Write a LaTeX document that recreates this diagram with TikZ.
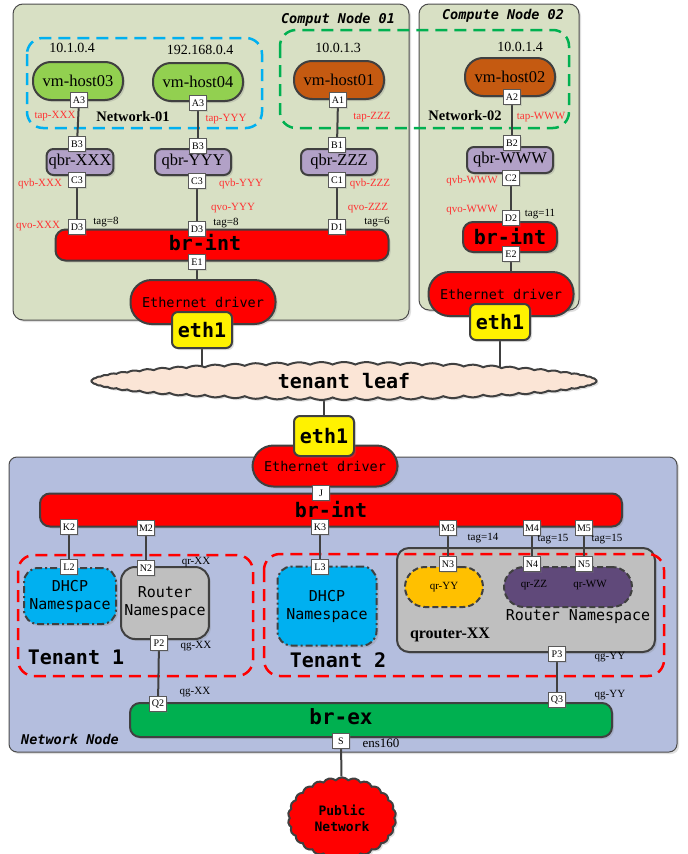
\documentclass[tikz,border=0pt]{standalone}
\usepackage{fontspec}
\setmainfont{Liberation Serif}
\setmonofont{DejaVu Sans Mono}[ItalicFont={DejaVu Sans Mono Oblique},BoldItalicFont={DejaVu Sans Mono Bold Oblique}]
\usetikzlibrary{shapes.symbols,shadows}
\definecolor{compute_bg}{RGB}{216,224,196}
\definecolor{network_bg}{RGB}{180,190,222}
\definecolor{vm_green}{RGB}{146,208,80}
\definecolor{vm_orange}{RGB}{197,90,17}
\definecolor{qbr_purple}{RGB}{178,161,199}
\definecolor{dark_purple}{RGB}{96,73,122}
\definecolor{leaf_peach}{RGB}{251,229,214}
\definecolor{dhcp_cyan}{RGB}{0,176,240}
\definecolor{net_green}{RGB}{0,176,80}
\definecolor{router_gray}{RGB}{191,191,191}
\definecolor{qr_gold}{RGB}{255,192,0}
\definecolor{edge_gray}{RGB}{64,64,64}
\definecolor{tap_red}{RGB}{255,50,50}

\newcommand\hostfont{\fontsize{16.5}{18}\selectfont}
\newcommand\portfont{\fontsize{10}{11}\selectfont}
\newcommand\ipfont{\fontsize{14}{16}\selectfont}
\newcommand\tagfont{\fontsize{11}{12}\selectfont}
\newcommand\drvfont{\ttfamily\fontsize{13.5}{15}\selectfont}
\newcommand\bigmono{\ttfamily\bfseries\fontsize{20}{22}\selectfont}
\newcommand\nsfont{\ttfamily\fontsize{15}{18}\selectfont}
\newcommand\titlefont{\ttfamily\bfseries\itshape\fontsize{13.5}{15}\selectfont}

\pgfdeclarelayer{frame}
\pgfdeclarelayer{links}
\pgfsetlayers{frame,links,main}

\tikzset{
  softshadow/.style={drop shadow={opacity=0.25,shadow xshift=2pt,shadow yshift=-2pt}},
  framebox/.style={draw=gray!60!black, line width=1pt, rounded corners=10, softshadow},
  box/.style={draw=edge_gray, line width=2pt, softshadow, align=center},
  vm/.style={box, rounded corners=18, minimum width=90, minimum height=38, font=\hostfont},
  qbr/.style={box, fill=qbr_purple, rounded corners=7, minimum width=76, minimum height=26, inner xsep=2pt, font=\hostfont},
  bridge/.style={box, fill=red, rounded corners=10},
  driver/.style={box, fill=red, rounded corners=21, minimum width=145, minimum height=44, font=\drvfont},
  ethport/.style={box, fill=yellow, rounded corners=6, minimum width=60, minimum height=36, font=\bigmono},
  port/.style={draw=gray!70!black, line width=0.6pt, fill=white, minimum width=17, minimum height=15, inner sep=0pt, font=\portfont,
    drop shadow={opacity=0.2,shadow xshift=1.5pt,shadow yshift=-1.5pt}},
  link/.style={draw=edge_gray, line width=2pt},
  taplabel/.style={text=tap_red, font=\tagfont},
  taglabel/.style={font=\tagfont},
  netbox/.style={line width=2.5pt, dash pattern=on 12pt off 7pt, rounded corners=16},
  dhcp/.style={draw=edge_gray, line width=2pt, dash pattern=on 7pt off 3pt on 2pt off 3pt, fill=dhcp_cyan, rounded corners=14,
    align=center, font=\nsfont, softshadow},
  qrdash/.style={draw=edge_gray, line width=2pt, dash pattern=on 6pt off 3pt, rounded corners=20, minimum height=40, font=\tagfont}
}

\begin{document}
\begin{tikzpicture}[x=1pt, y=-1pt]
    \useasboundingbox (0,0) rectangle (688,854);

    % Node frames
    \begin{pgfonlayer}{frame}
        \draw[framebox, fill=compute_bg] (13,4) rectangle (409,320);
        \draw[framebox, fill=compute_bg] (419,4) rectangle (579,310);
        \draw[framebox, fill=network_bg, rounded corners=8] (9,457) rectangle (677,752);
        \draw[netbox, draw=dhcp_cyan] (27,38) rectangle (262,128);
        \draw[netbox, draw=net_green] (280,30) rectangle (569,128);
        \draw[framebox, draw=edge_gray, line width=2pt, fill=router_gray, rounded corners=12] (397,548) rectangle (655,652);
        \draw[netbox, draw=red] (18,555) rectangle (253,676);
        \draw[netbox, draw=red] (264,554) rectangle (664,676);
    \end{pgfonlayer}

    % Titles
    \node[font=\titlefont] (cn1title) at (338,20) {Comput Node 01};
    \node[font=\titlefont] (cn2title) at (503,16) {Compute Node 02};
    \node[font=\titlefont] (nntitle) at (70,739) {Network Node};

    % IP addresses
    \node[font=\ipfont] (ip03) at (72,48) {10.1.0.4};
    \node[font=\ipfont] (ip04) at (200,50) {192.168.0.4};
    \node[font=\ipfont] (ip01) at (338,48) {10.0.1.3};
    \node[font=\ipfont] (ip02) at (520,47) {10.0.1.4};
    \node[font=\bfseries\fontsize{14.5}{16}\selectfont] (net01) at (133,117) {Network-01};
    \node[font=\bfseries\fontsize{14.5}{16}\selectfont] (net02) at (465,116) {Network-02};

    % VMs
    \node[vm, fill=vm_green] (host03) at (78,81) {vm-host03};
    \node[vm, fill=vm_green] (host04) at (198,82) {vm-host04};
    \node[vm, fill=vm_orange] (host01) at (339,80) {vm-host01};
    \node[vm, fill=vm_orange] (host02) at (510,77) {vm-host02};
    \node[port] (a3x) at (79,100) {A3};
    \node[port] (a3y) at (198,103) {A3};
    \node[port] (a1) at (338,100) {A1};
    \node[port] (a2) at (512,97) {A2};
    \node[taplabel] (tapx) at (55,116) {tap-XXX};
    \node[taplabel] (tapy) at (226,119) {tap-YYY};
    \node[taplabel] (tapz) at (372,117) {tap-ZZZ};
    \node[taplabel] (tapw) at (541,117) {tap-WWW};

    % Linux bridges
    \node[qbr, minimum width=64] (qbrx) at (80,162) {qbr-XXX};
    \node[qbr] (qbry) at (193,162) {qbr-YYY};
    \node[qbr] (qbrz) at (339,162) {qbr-ZZZ};
    \node[qbr, minimum width=86] (qbrw) at (510,160) {qbr-WWW};
    \node[port] (b3x) at (77,144) {B3};
    \node[port] (b3y) at (198,146) {B3};
    \node[port] (b1) at (337,145) {B1};
    \node[port] (b2) at (512,143) {B2};
    \node[port] (c3x) at (77,180) {C3};
    \node[port] (c3y) at (197,181) {C3};
    \node[port] (c1) at (337,180) {C1};
    \node[port] (c2) at (511,178) {C2};
    \node[taplabel] (qvbx) at (40,184) {qvb-XXX};
    \node[taplabel] (qvby) at (241,184) {qvb-YYY};
    \node[taplabel] (qvbz) at (370,184) {qvb-ZZZ};
    \node[taplabel] (qvbw) at (472,181) {qvb-WWW};
    \node[taplabel] (qvox) at (38,226) {qvo-XXX};
    \node[taplabel] (qvoy) at (233,208) {qvo-YYY};
    \node[taplabel] (qvoz) at (368,208) {qvo-ZZZ};
    \node[taplabel] (qvow) at (472,210) {qvo-WWW};

    % br-int on compute nodes
    \node[bridge, minimum width=333, minimum height=31] (brinta) at (222,245) {};
    \node[font=\bigmono] (brintatext) at (205,243) {br-int};
    \node[bridge, minimum width=94, minimum height=30, font=\bigmono] (brintb) at (510,237) {br-int};
    \node[port] (d3x) at (77,227) {D3};
    \node[port] (d3y) at (197,229) {D3};
    \node[port] (d1) at (337,227) {D1};
    \node[port] (d2) at (511,218) {D2};
    \node[port] (e1) at (197,262) {E1};
    \node[port] (e2) at (511,254) {E2};
    \node[taglabel] (tagx) at (106,222) {tag=8};
    \node[taglabel] (tagy) at (226,223) {tag=8};
    \node[taglabel] (tagz) at (377,222) {tag=6};
    \node[taglabel] (tagw) at (540,214) {tag=11};

    % Ethernet drivers
    \node[driver] (drva) at (203,302) {Ethernet driver};
    \node[driver] (drvb) at (501,294) {Ethernet driver};
    \node[ethport] (etha) at (202,330) {eth1};
    \node[ethport] (ethb) at (500,322) {eth1};

    % Tenant leaf
    \node[cloud, cloud puffs=70, cloud puff arc=50, aspect=12, draw=edge_gray, line width=2pt, fill=leaf_peach,
          minimum width=505, minimum height=38, inner sep=0pt, font=\bigmono, softshadow] (leaf) at (344,381) {tenant leaf};

    % Network node
    \node[driver, minimum height=41] (drvn) at (325,466) {Ethernet driver};
    \node[ethport, minimum height=40] (ethn) at (324,436) {eth1};
    \node[bridge, minimum width=582, minimum height=33, font=\bigmono] (brintn) at (331,510) {br-int};
    \node[port] (j) at (321,493) {J};
    \node[port] (k2) at (69,527) {K2};
    \node[port] (m2) at (146,528) {M2};
    \node[port] (k3) at (320,527) {K3};
    \node[port] (m3) at (448,528) {M3};
    \node[port] (m4) at (532,528) {M4};
    \node[port] (m5) at (584,528) {M5};
    \node[taglabel] (tag14) at (483,538) {tag=14};
    \node[taglabel] (tag15a) at (553,539) {tag=15};
    \node[taglabel] (tag15b) at (607,539) {tag=15};

    % Tenant 1
    \node[dhcp, minimum width=92, minimum height=56] (dhcpa) at (70,596) {DHCP\\Namespace};
    \node[box, fill=router_gray, rounded corners=14, minimum width=87, minimum height=72, font=\nsfont] (routera) at (165,603) {Router\\Namespace};
    \node[port] (l2) at (69,567) {L2};
    \node[port] (n2) at (146,568) {N2};
    \node[port] (p2) at (159,643) {P2};
    \node[taglabel] (qrxx) at (196,562) {qr-XX};
    \node[taglabel] (qgxxa) at (196,646) {qg-XX};
    \node[font=\bigmono] (tenant1) at (76,657) {Tenant 1};

    % Tenant 2
    \node[dhcp, minimum width=99, minimum height=79] (dhcpb) at (327,606) {DHCP\\Namespace};
    \node[qrdash, fill=qr_gold, minimum width=78] (qryy) at (444,587) {qr-YY};
    \node[qrdash, fill=dark_purple, minimum width=128] (qrzw) at (568,587) {};
    \node[taglabel] (qrzz) at (534,585) {qr-ZZ};
    \node[taglabel] (qrww) at (590,585) {qr-WW};
    \node[font=\nsfont] (routerb) at (578,617) {Router Namespace};
    \node[font=\bfseries\fontsize{16}{18}\selectfont] (qrouter) at (450,635) {qrouter-XX};
    \node[port] (l3) at (320,567) {L3};
    \node[port] (n3) at (448,564) {N3};
    \node[port] (n4) at (532,564) {N4};
    \node[port] (n5) at (584,564) {N5};
    \node[port] (p3) at (557,654) {P3};
    \node[taglabel] (qgyya) at (610,657) {qg-YY};
    \node[font=\bigmono] (tenant2) at (338,660) {Tenant 2};

    % br-ex and public network
    \node[box, fill=net_green, rounded corners=10, minimum width=482, minimum height=34] (brex) at (371,720) {};
    \node[font=\ttfamily\bfseries\fontsize{21}{23}\selectfont] (brextext) at (341,717) {br-ex};
    \node[port] (q2) at (158,704) {Q2};
    \node[port] (q3) at (557,700) {Q3};
    \node[port] (s) at (341,741) {S};
    \node[taglabel] (qgxxb) at (195,692) {qg-XX};
    \node[taglabel] (qgyyb) at (610,695) {qg-YY};
    \node[taglabel, font=\fontsize{13}{14}\selectfont] (ens) at (381,743) {ens160};
    \node[cloud, cloud puffs=26, cloud puff arc=100, draw=edge_gray, line width=2pt, fill=red, minimum width=108, minimum height=64,
          align=center, inner sep=0pt, font=\ttfamily\bfseries\fontsize{13}{16}\selectfont, softshadow] (public) at (342,818) {Public\\Network};

    % Links
    \begin{pgfonlayer}{links}
        \draw[link] (a3x) -- (b3x);
        \draw[link] (a3y) -- (b3y);
        \draw[link] (a1) -- (b1);
        \draw[link] (a2) -- (b2);
        \draw[link] (c3x) -- (d3x);
        \draw[link] (c3y) -- (d3y);
        \draw[link] (c1) -- (d1);
        \draw[link] (c2) -- (d2);
        \draw[link] (e1) -- (e1 |- drva);
        \draw[link] (e2) -- (e2 |- drvb);
        \draw[link] (etha) -- (etha |- leaf);
        \draw[link] (ethb) -- (ethb |- leaf);
        \draw[link] (ethn) -- (ethn |- leaf);
        \draw[link] (j) -- (j |- drvn);
        \draw[link] (k2) -- (l2);
        \draw[link] (m2) -- (n2);
        \draw[link] (k3) -- (l3);
        \draw[link] (m3) -- (n3);
        \draw[link] (m4) -- (n4);
        \draw[link] (m5) -- (n5);
        \draw[link] (p2) -- (q2);
        \draw[link] (p3) -- (q3);
        \draw[link] (s) -- (public);
    \end{pgfonlayer}
\end{tikzpicture}
\end{document}
